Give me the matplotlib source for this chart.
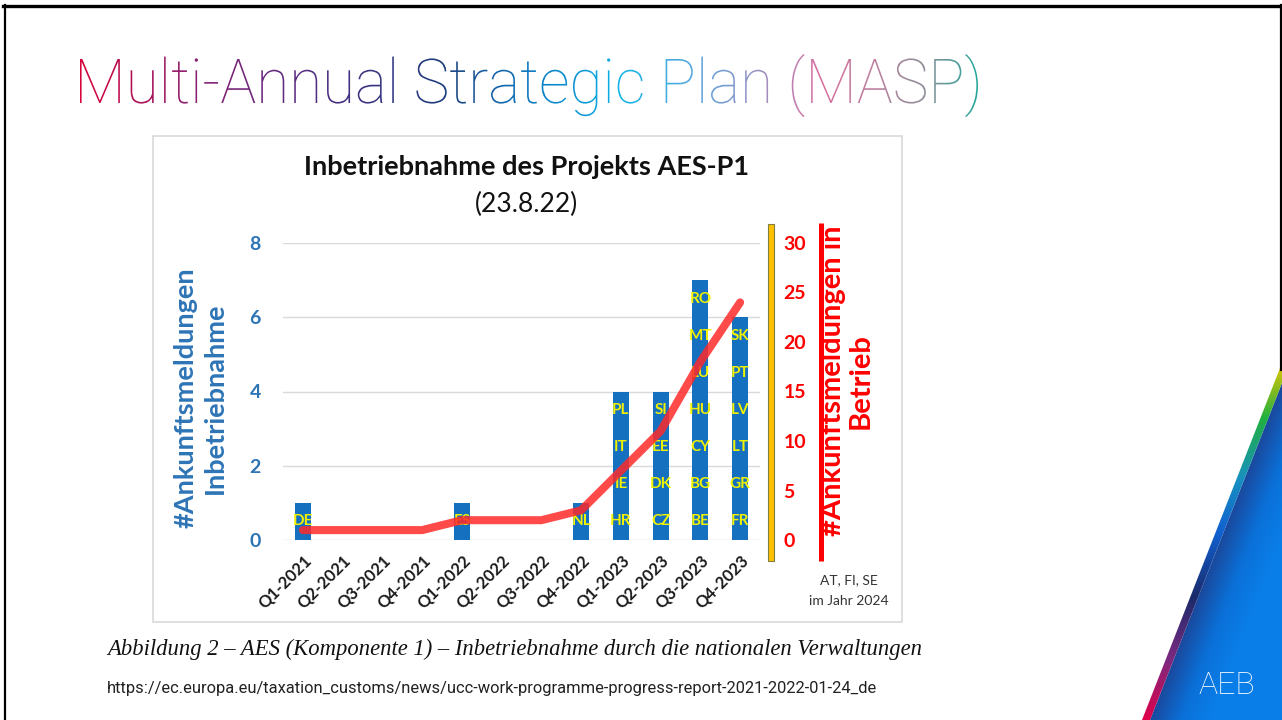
import numpy as np
import matplotlib
matplotlib.use("Agg")
import matplotlib.pyplot as plt
from matplotlib.colors import LinearSegmentedColormap
from matplotlib.textpath import TextPath
from matplotlib.font_manager import FontProperties
from matplotlib.patches import PathPatch, Polygon, Rectangle
from matplotlib.transforms import Affine2D

# data
quarters = ['Q1-2021', 'Q2-2021', 'Q3-2021', 'Q4-2021',
            'Q1-2022', 'Q2-2022', 'Q3-2022', 'Q4-2022',
            'Q1-2023', 'Q2-2023', 'Q3-2023', 'Q4-2023']
new_count = [1, 0, 0, 0, 1, 0, 0, 1, 4, 4, 7, 6]
in_operation = [1, 1, 1, 1, 2, 2, 2, 3, 7, 11, 18, 24]
bar_countries = [['DE'], [], [], [], ['ES'], [], [], ['NL'],
                 ['HR', 'IE', 'IT', 'PL'],
                 ['CZ', 'DK', 'EE', 'SI'],
                 ['BE', 'BG', 'CY', 'HU', 'LU', 'MT', 'RO'],
                 ['FR', 'GR', 'LT', 'LV', 'PT', 'SK']]
left_ticks = [0, 2, 4, 6, 8]
right_ticks = [0, 5, 10, 15, 20, 25, 30]

W, H = 1282, 720
BLUE = '#2E75B6'
RED = '#FF0000'
FONT = 'Lato'

fig = plt.figure(figsize=(W / 100, H / 100), dpi=100)
fig.patch.set_facecolor('white')

# background axes in pixel coordinates (y down)
bg = fig.add_axes([0, 0, 1, 1])
bg.set_xlim(0, W)
bg.set_ylim(H, 0)
bg.axis('off')
bg.set_zorder(0)

# ---- slide title with colour gradient ----
title = 'Multi-Annual Strategic Plan (MASP)'
fp = FontProperties(family='Roboto', weight='light')
tp = TextPath((0, 0), title, size=100, prop=fp)
ext = tp.get_extents()
cap = TextPath((0, 0), 'M', size=100, prop=fp).get_extents().height
sx = 898 / ext.width
sy = 44 / cap
tpath = Affine2D().scale(sx, -sy).translate(80 - ext.x0 * sx, 103).transform_path(tp)
tpatch = PathPatch(tpath, facecolor='none', edgecolor='none')
bg.add_patch(tpatch)
title_cmap = LinearSegmentedColormap.from_list('title', [
    (0.0, '#D7003A'), (0.12, '#8E1E6E'), (0.25, '#552D85'), (0.40, '#1E3C7C'),
    (0.50, '#0C78C0'), (0.60, '#10B4E8'), (0.68, '#5AA8E0'), (0.76, '#A090C0'),
    (0.82, '#D870A0'), (0.88, '#C080A0'), (0.94, '#8A9098'), (1.0, '#20A89A')])
grad = np.linspace(0, 1, 512).reshape(1, -1)
im = bg.imshow(grad, cmap=title_cmap, extent=(78, 982, 125, 45), aspect='auto',
               interpolation='bilinear')
im.set_clip_path(tpatch)

# ---- embedded chart frame ----
bg.add_patch(Rectangle((153, 136), 749, 486, fill=False, edgecolor='#D9D9D9', lw=1.2))
bg.text(527, 167, 'Inbetriebnahme des Projekts AES-P1', ha='center', va='center',
        fontsize=19.5, fontweight='bold', family=FONT, color='#111111')
bg.text(527, 204, '(23.8.22)', ha='center', va='center', fontsize=19,
        family=FONT, color='#111111')

bg.text(200, 398, '#Ankunftsmeldungen\nInbetriebnahme', rotation=90, ha='center',
        va='center', fontsize=19.5, fontweight='bold', family=FONT, color=BLUE,
        linespacing=1.25, multialignment='center')
bg.text(847, 381, '#Ankunftsmeldungen in\nBetrieb', rotation=90, ha='center',
        va='center', fontsize=21, fontweight='bold', family=FONT, color=RED,
        linespacing=1.1, multialignment='center')

# yellow bar and red vertical line next to right axis
bg.add_patch(Rectangle((768, 224), 6, 337, facecolor='#FFC000', edgecolor='#7F7F3F', lw=0.8))
bg.plot([821, 821], [223, 561], color=RED, lw=3.6, solid_capstyle='butt')

bg.text(849, 580, 'AT, FI, SE', ha='center', va='center', fontsize=10, family=FONT, color='#333333')
bg.text(849, 601, 'im Jahr 2024', ha='center', va='center', fontsize=10, family=FONT, color='#333333')

# caption and link
bg.text(107, 649, 'Abbildung 2 \u2013 AES (Komponente 1) \u2013 Inbetriebnahme durch die nationalen Verwaltungen',
        ha='left', va='center', fontsize=16.3, style='italic', family='Liberation Serif', color='#111111')
bg.text(107, 688, 'https://ec.europa.eu/taxation_customs/news/ucc-work-programme-progress-report-2021-2022-01-24_de',
        ha='left', va='center', fontsize=11.9, family='Roboto', color='#222222')

# ---- AEB corner ----
x_top, y_top, x_bot = 1282, 363, 1142
stripe_w = 8
yy, xx = np.mgrid[360:721, 1130:1283]
x_edge = x_top - (yy - y_top) * (x_top - x_bot) / (H - y_top)
dist = np.clip((xx - x_edge - stripe_w) / 60.0, 0, 1)
blue_cmap = LinearSegmentedColormap.from_list('aeb', ['#1A4A9E', '#0A70D8', '#0A7EE8'])
blue_poly = Polygon([(x_bot + stripe_w, H), (x_top, y_top + 20), (x_top, H)], closed=True,
                    facecolor='none', edgecolor='none')
bg.add_patch(blue_poly)
bim = bg.imshow(dist, cmap=blue_cmap, extent=(1130, 1283, 721, 360), aspect='auto',
                interpolation='bilinear')
bim.set_clip_path(blue_poly)

rainbow = LinearSegmentedColormap.from_list('rainbow_edge', [
    (0.0, '#F0C800'), (0.16, '#20B040'), (0.33, '#1890C0'), (0.48, '#1060D0'),
    (0.66, '#1A2A6A'), (0.83, '#7A2A80'), (1.0, '#E0004A')])
stripe_poly = Polygon([(x_bot, H), (x_top, y_top), (x_top, y_top + 20), (x_bot + stripe_w, H)],
                      closed=True, facecolor='none', edgecolor='none')
bg.add_patch(stripe_poly)
sim = bg.imshow(np.linspace(0, 1, 256).reshape(-1, 1), cmap=rainbow,
                extent=(1130, 1283, 720, 360), aspect='auto', interpolation='bilinear')
sim.set_clip_path(stripe_poly)

bg.text(1227, 686, 'AEB', ha='center', va='center', fontsize=23, family='Roboto',
        fontweight='light', color='white')

# slide border
bg.plot([3, 1281], [5.5, 5.5], color='black', lw=2.4)
bg.plot([4.5, 4.5], [5, H], color='black', lw=1.6)
bg.plot([1280.5, 1280.5], [5, 370], color='black', lw=1.6)

# ---- the chart itself ----
x0, x1 = 283, 760
y0, y1 = 540, 243
ax = fig.add_axes([x0 / W, (H - y0) / H, (x1 - x0) / W, (y0 - y1) / H])
ax.set_zorder(2)
ax.patch.set_visible(False)
xpos = np.arange(len(quarters))
ax.bar(xpos, new_count, width=0.4, color='#1670C0', zorder=2)
for i, names in enumerate(bar_countries):
    for j, name in enumerate(names):
        ax.text(xpos[i], j + 0.5, name, ha='center', va='center', fontsize=11,
                fontweight='bold', family=FONT, color='#F2F200', zorder=3)
ax.set_xlim(-0.5, 11.5)
ax.set_ylim(0, 8)
ax.set_yticks(left_ticks)
ax.set_yticklabels([str(t) for t in left_ticks], fontsize=14, fontweight='bold',
                   family=FONT, color=BLUE)
ax.yaxis.grid(True, color='#D9D9D9', lw=1)
ax.set_axisbelow(True)
ax.set_xticks(xpos)
ax.set_xticklabels(quarters, rotation=45, ha='right', va='top', rotation_mode='anchor',
                   fontsize=12, fontweight='bold', family=FONT, color='#1A1A1A')
ax.tick_params(axis='y', length=0, pad=16)
ax.tick_params(axis='x', length=0, pad=9)
for s in ax.spines.values():
    s.set_visible(False)

ax2 = ax.twinx()
ax2.set_zorder(3)
ax2.patch.set_visible(False)
ax2.plot(xpos, in_operation, color='#FF2A2A', alpha=0.85, lw=5.8,
         solid_joinstyle='round', solid_capstyle='round')
ax2.set_ylim(0, 30)
ax2.set_yticks(right_ticks)
ax2.set_yticklabels([str(t) for t in right_ticks], fontsize=14, fontweight='bold',
                    family=FONT, color=RED)
ax2.tick_params(axis='y', length=0, pad=17)
for s in ax2.spines.values():
    s.set_visible(False)

fig.savefig('out.png', dpi=100)
